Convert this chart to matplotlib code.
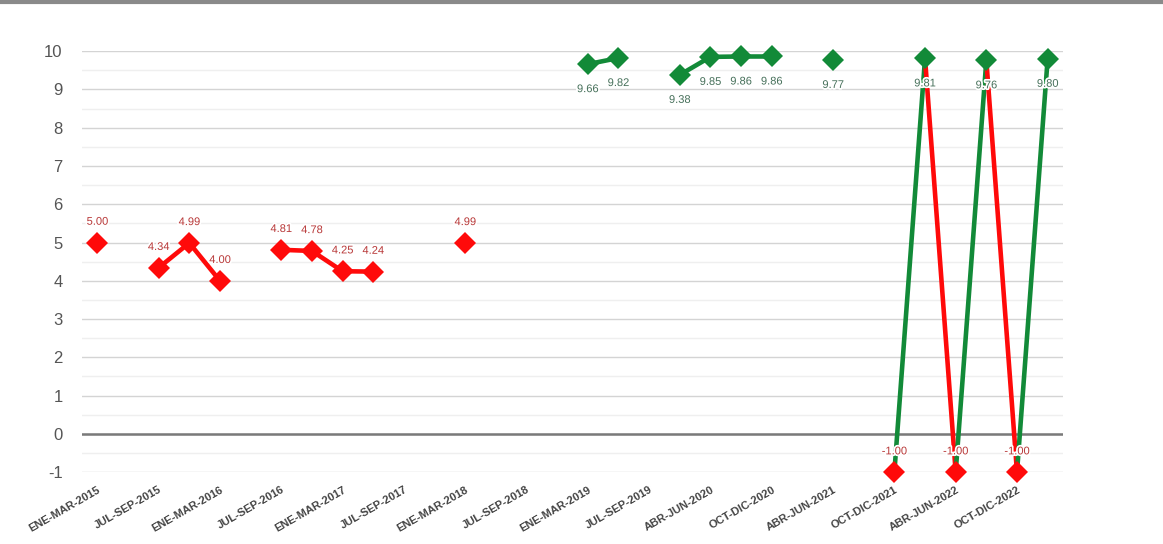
import numpy as np
import matplotlib
matplotlib.use("Agg")
import matplotlib.pyplot as plt
import matplotlib.patheffects as pe
from matplotlib.lines import Line2D

plt.rcParams['font.family'] = ['Liberation Sans', 'DejaVu Sans']
plt.rcParams['axes.unicode_minus'] = False

# Quarters shown on the x axis (only every other one gets a label)
quarters = [
    "ENE-MAR-2015", "ABR-JUN-2015", "JUL-SEP-2015", "OCT-DIC-2015",
    "ENE-MAR-2016", "ABR-JUN-2016", "JUL-SEP-2016", "OCT-DIC-2016",
    "ENE-MAR-2017", "ABR-JUN-2017", "JUL-SEP-2017", "OCT-DIC-2017",
    "ENE-MAR-2018", "ABR-JUN-2018", "JUL-SEP-2018", "OCT-DIC-2018",
    "ENE-MAR-2019", "ABR-JUN-2019", "JUL-SEP-2019", "ENE-MAR-2020",
    "ABR-JUN-2020", "JUL-SEP-2020", "OCT-DIC-2020", "ENE-MAR-2021",
    "ABR-JUN-2021", "JUL-SEP-2021", "OCT-DIC-2021", "ENE-MAR-2022",
    "ABR-JUN-2022", "JUL-SEP-2022", "OCT-DIC-2022", "ENE-MAR-2023",
]

# Score per quarter (nan = no data)
nan = np.nan
scores = [
    5.00, nan, 4.34, 4.99,
    4.00, nan, 4.81, 4.78,
    4.25, 4.24, nan, nan,
    4.99, nan, nan, nan,
    9.66, 9.82, nan, 9.38,
    9.85, 9.86, 9.86, nan,
    9.77, nan, -1.00, 9.81,
    -1.00, 9.76, -1.00, 9.80,
]

RED = "#ff0a0a"
GREEN = "#128a38"
RED_TXT = "#b83838"
GREEN_TXT = "#46705a"
threshold = 9

fig = plt.figure(figsize=(11.63, 5.44), dpi=100)
ax = fig.add_axes([0.0705, 0.132, 0.8435, 0.774])

x = np.arange(len(quarters))
y = np.array(scores, dtype=float)
good = y >= threshold

# segments between consecutive points, colored by the point they end on
for i in range(1, len(y)):
    if np.isnan(y[i - 1]) or np.isnan(y[i]):
        continue
    c = GREEN if good[i] else RED
    ax.plot(x[i - 1:i + 1], y[i - 1:i + 1], color=c, lw=3.3,
            solid_capstyle='butt', zorder=3, clip_on=False)

ok = ~np.isnan(y)
ax.plot(x[ok & good], y[ok & good], 'D', color=GREEN, ms=11.5, mew=0,
        zorder=4, clip_on=False)
ax.plot(x[ok & ~good], y[ok & ~good], 'D', color=RED, ms=11.5, mew=0,
        zorder=4, clip_on=False)

halo = [pe.withStroke(linewidth=2.5, foreground='white')]
for xi, yi, g in zip(x[ok], y[ok], good[ok]):
    if g:
        ax.annotate(f"{yi:.2f}", (xi, yi), xytext=(0, -18), textcoords='offset points',
                    ha='center', va='center', fontsize=8, color=GREEN_TXT,
                    path_effects=halo, zorder=5)
    else:
        ax.annotate(f"{yi:.2f}", (xi, yi), xytext=(0, 15), textcoords='offset points',
                    ha='center', va='center', fontsize=8, color=RED_TXT,
                    path_effects=halo, zorder=5)

ax.set_xlim(-0.5, len(quarters) - 0.5)
ax.set_ylim(-1, 10)
ax.set_yticks(range(-1, 11))
ax.set_yticks(np.arange(-0.5, 10, 1.0), minor=True)
ax.grid(True, axis='y', which='major', color='#d4d4d4', lw=1)
ax.grid(True, axis='y', which='minor', color='#efefef', lw=1)
ax.axhline(0, color='#7a7a7a', lw=1.8, zorder=2)
ax.set_axisbelow(True)

ax.set_xticks(x[::2])
ax.set_xticklabels(quarters[::2], rotation=30, ha='right', rotation_mode='anchor',
                   fontsize=8, color='#444444', fontweight='bold')
ax.tick_params(axis='x', length=0, pad=9)
ax.tick_params(axis='y', which='both', length=0)
ax.tick_params(axis='y', pad=14, labelsize=12, labelcolor='#555555')
for s in ax.spines.values():
    s.set_visible(False)

# thin frame line across the top
fig.add_artist(Line2D([0, 1], [0.997, 0.997], color='#8a8a8a', lw=3,
                      transform=fig.transFigure))

fig.savefig("out.png", dpi=100)
